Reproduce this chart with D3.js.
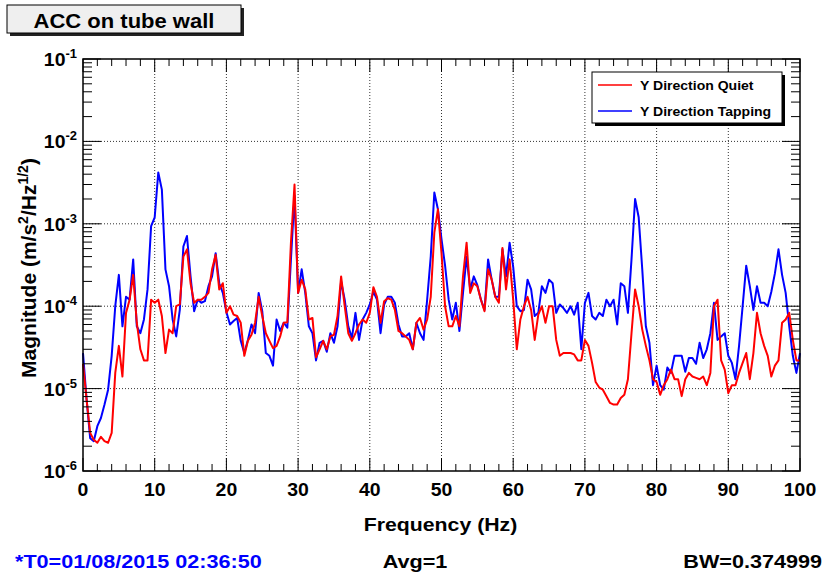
<!DOCTYPE html>
<html>
<head>
<meta charset="utf-8">
<script src="https://cdn.jsdelivr.net/npm/d3@7"></script>
<style>
  body { margin: 0; background: #fff; }
  svg { display: block; font-family: "Liberation Sans", Arial, sans-serif; font-weight: bold; }
</style>
</head>
<body>
<div id="chart"></div>
<script>
// frequency grid (Hz), 0.5 Hz sampling
const freq = d3.range(0, 100.001, 0.5);

// Y Direction Tapping (blue)
const tapping = [
  2.7e-5, 7.4e-6, 2.5e-6, 2.3e-6, 3.5e-6, 4.4e-6, 6.4e-6, 9.7e-6, 2.5e-5, 1e-4,
  2.4e-4, 5.7e-5, 1.3e-4, 1.2e-4, 3.7e-4, 5.7e-5, 4.7e-5, 6.9e-5, 1.6e-4, 9.4e-4,
  1.2e-3, 4.2e-3, 2.6e-3, 2.8e-4, 1.75e-4, 6.9e-5, 4.3e-5, 9e-5, 5.3e-4, 7.1e-4,
  2.3e-4, 8.7e-5, 1.2e-4, 1.1e-4, 1.15e-4, 1.75e-4, 2.3e-4, 4.4e-4, 1.9e-4, 1.45e-4,
  8.5e-5, 6e-5, 6.6e-5, 7.2e-5, 3.8e-5, 2.7e-5, 3.9e-5, 6e-5, 4.7e-5, 1.45e-4,
  8.7e-5, 2.7e-5, 2.5e-5, 1.9e-5, 6.9e-5, 5e-5, 6.3e-5, 5.5e-5, 3.7e-4, 2.2e-3,
  1.45e-4, 2.8e-4, 1.45e-4, 5.7e-5, 4.7e-5, 2.2e-5, 3.6e-5, 3.8e-5, 2.8e-5, 4.7e-5,
  3.6e-5, 5.7e-5, 2e-4, 1.2e-4, 5.7e-5, 4.1e-5, 8.3e-5, 3.9e-5, 6.9e-5, 8.3e-5,
  1.05e-4, 1.5e-4, 1.2e-4, 4.7e-5, 1.05e-4, 1.3e-4, 1.3e-4, 1.1e-4, 6e-5, 4.3e-5,
  4.3e-5, 4.7e-5, 3e-5, 6.3e-5, 4.7e-5, 3.9e-5, 1.2e-4, 4e-4, 2.4e-3, 1.5e-3,
  6.5e-4, 3.1e-4, 1.2e-4, 6.9e-5, 1.1e-4, 5e-5, 1.45e-4, 4e-4, 1.6e-4, 2.3e-4,
  1.8e-4, 1.2e-4, 9e-5, 3.7e-4, 2.1e-4, 1.3e-4, 1.3e-4, 4.9e-4, 2.3e-4, 5.9e-4,
  3e-4, 1e-4, 8.7e-5, 9e-5, 2.1e-4, 1.6e-4, 7.6e-5, 8.3e-5, 1.75e-4, 1.45e-4,
  2.1e-4, 1.9e-4, 8.3e-5, 1.05e-4, 9.5e-5, 8.3e-5, 1e-4, 7.9e-5, 1.1e-4, 3e-5,
  1.1e-4, 1.45e-4, 7.6e-5, 6.9e-5, 8.3e-5, 7.6e-5, 1.2e-4, 1e-4, 1.2e-4, 6e-5,
  1.9e-4, 1.75e-4, 8.3e-5, 3.7e-4, 2e-3, 1.2e-3, 2.8e-4, 5.7e-5, 3.6e-5, 1.1e-5,
  1.9e-5, 1.1e-5, 9.7e-6, 1.8e-5, 1.55e-5, 2.5e-5, 2.5e-5, 2.5e-5, 1.6e-5, 2.35e-5,
  2.35e-5, 2e-5, 3.6e-5, 2.35e-5, 3e-5, 4.7e-5, 1.1e-4, 3.9e-5, 4.3e-5, 4.7e-5,
  2.5e-5, 2.05e-5, 1.3e-5, 3.3e-5, 1e-4, 3.1e-4, 1.75e-4, 9e-5, 1.75e-4, 1.1e-4,
  1.1e-4, 1e-4, 1.5e-4, 2.5e-4, 4.9e-4, 2.4e-4, 1.45e-4, 5.7e-5, 2.5e-5, 1.55e-5,
  2.7e-5
];

// Y Direction Quiet (red)
const quiet = [
  2.0e-5, 7.4e-6, 2.9e-6, 2.4e-6, 2.2e-6, 2.6e-6, 2.3e-6, 2.2e-6, 2.9e-6, 1.55e-5,
  3.3e-5, 1.4e-5, 8.3e-5, 1.2e-4, 2.4e-4, 6.3e-5, 3e-5, 2.2e-5, 2.2e-5, 1.2e-4,
  1.1e-4, 1.2e-4, 7.6e-5, 2.7e-5, 5.2e-5, 4.7e-5, 1e-4, 1.05e-4, 4e-4, 4.9e-4,
  1.9e-4, 1.1e-4, 1.2e-4, 1.2e-4, 1.3e-4, 1.45e-4, 2.8e-4, 4.2e-4, 1.6e-4, 1.9e-4,
  8.3e-5, 1e-4, 7.9e-5, 7.6e-5, 6.3e-5, 2.5e-5, 3.8e-5, 4.5e-5, 6.3e-5, 1.3e-4,
  7.6e-5, 4.7e-5, 3.8e-5, 3.1e-5, 3.3e-5, 4.3e-5, 6.3e-5, 6.4e-5, 5.9e-4, 3e-3,
  1.45e-4, 2.1e-4, 1.6e-4, 6.9e-5, 7.2e-5, 2.4e-5, 3e-5, 3.8e-5, 3e-5, 4.3e-5,
  4.5e-5, 7.6e-5, 2.3e-4, 1e-4, 4.7e-5, 3.8e-5, 4.7e-5, 6e-5, 6.9e-5, 6.3e-5,
  8.3e-5, 1.7e-4, 1.3e-4, 6.3e-5, 1.15e-4, 1.25e-4, 1.2e-4, 9e-5, 5e-5, 4.7e-5,
  4.3e-5, 3.9e-5, 3e-5, 6.3e-5, 7.2e-5, 5.2e-5, 6.9e-5, 1.3e-4, 7.8e-4, 1.5e-3,
  4.4e-4, 1e-4, 5.7e-5, 5.7e-5, 7.6e-5, 5.7e-5, 2.3e-4, 5.9e-4, 1.45e-4, 1.9e-4,
  1.75e-4, 1.2e-4, 8.7e-5, 2.8e-4, 2.1e-4, 1.3e-4, 1.1e-4, 5.1e-4, 1.6e-4, 3.7e-4,
  1.2e-4, 3e-5, 6.9e-5, 1e-4, 1.3e-4, 9e-5, 3.9e-5, 7.9e-5, 1e-4, 6.3e-5,
  1e-4, 1e-4, 3.9e-5, 2.5e-5, 2.7e-5, 2.7e-5, 2.7e-5, 2.6e-5, 2.2e-5, 2.2e-5,
  3.9e-5, 3.3e-5, 2.05e-5, 1.2e-5, 1.03e-5, 9.7e-6, 8.1e-6, 6.7e-6, 6.4e-6, 6.4e-6,
  7.7e-6, 8.4e-6, 1.3e-5, 4.7e-5, 1.6e-4, 1e-4, 5.2e-5, 3.3e-5, 2.2e-5, 1.3e-5,
  1.2e-5, 8.4e-6, 1.1e-5, 1.3e-5, 1.7e-5, 1.3e-5, 1.3e-5, 8.1e-6, 1.3e-5, 1.55e-5,
  1.4e-5, 1.35e-5, 1.3e-5, 1.4e-5, 1.1e-5, 1.55e-5, 1e-4, 1.2e-4, 2.2e-5, 1.7e-5,
  8.8e-6, 1.1e-5, 1.1e-5, 1.55e-5, 2.05e-5, 2.7e-5, 1.3e-5, 2.7e-5, 8.3e-5, 4.7e-5,
  3.3e-5, 2.5e-5, 1.4e-5, 1.9e-5, 2.2e-5, 6.3e-5, 6.9e-5, 8.3e-5, 3.9e-5, 2.2e-5,
  2.2e-5
];

const xTicks = [0, 10, 20, 30, 40, 50, 60, 70, 80, 90, 100];
const yExponents = [-1, -2, -3, -4, -5, -6];
const seriesNames = ['Y Direction Quiet', 'Y Direction Tapping'];
const seriesColors = ['#ff0000', '#0000ff'];

const W = 830, H = 575;
const plot = { left: 83, right: 800, top: 59, bottom: 471 };

const svg = d3.select('#chart').append('svg')
    .attr('width', W)
    .attr('height', H);

const x = d3.scaleLinear().domain([0, 100]).range([plot.left, plot.right]);
const y = d3.scaleLog().domain([1e-6, 1e-1]).range([plot.bottom, plot.top]);

// text helper, sx = horizontal stretch
function label(parent, px, py, txt, size, anchor, color, sx) {
    return parent.append('text')
        .attr('transform', `translate(${px},${py}) scale(${sx || 1},1)`)
        .attr('text-anchor', anchor || 'start')
        .style('font-size', size + 'px')
        .attr('fill', color || '#000')
        .text(txt);
}

// grid (dotted)
const grid = svg.append('g');
grid.selectAll('.gx')
    .data(xTicks.filter(d => d > 0 && d < 100))
    .enter().append('line')
    .attr('x1', d => x(d)).attr('x2', d => x(d))
    .attr('y1', plot.top).attr('y2', plot.bottom)
    .attr('stroke', '#333').attr('stroke-width', 1)
    .attr('stroke-dasharray', '1,2');
grid.selectAll('.gy')
    .data(yExponents.filter(e => e > -6 && e < -1))
    .enter().append('line')
    .attr('x1', plot.left).attr('x2', plot.right)
    .attr('y1', e => y(Math.pow(10, e))).attr('y2', e => y(Math.pow(10, e)))
    .attr('stroke', '#333').attr('stroke-width', 1)
    .attr('stroke-dasharray', '1,2');

// curves: blue first, red on top
const line = d3.line()
    .x((d, i) => x(freq[i]))
    .y(d => y(d));

svg.append('path')
    .datum(tapping)
    .attr('d', line)
    .attr('fill', 'none')
    .attr('stroke', seriesColors[1])
    .attr('stroke-width', 2)
    .attr('stroke-linejoin', 'round');

svg.append('path')
    .datum(quiet)
    .attr('d', line)
    .attr('fill', 'none')
    .attr('stroke', seriesColors[0])
    .attr('stroke-width', 2)
    .attr('stroke-linejoin', 'round');

// frame
svg.append('rect')
    .attr('x', plot.left).attr('y', plot.top)
    .attr('width', plot.right - plot.left)
    .attr('height', plot.bottom - plot.top)
    .attr('fill', 'none')
    .attr('stroke', '#000')
    .attr('stroke-width', 1.5);

// ticks on all four sides
const ticks = svg.append('g').attr('stroke', '#000').attr('stroke-width', 1);
const xMinor = d3.range(0, 100.001, 2);
xMinor.forEach(v => {
    const len = v % 10 === 0 ? 13 : 7;
    ticks.append('line').attr('x1', x(v)).attr('x2', x(v))
        .attr('y1', plot.bottom).attr('y2', plot.bottom - len);
    ticks.append('line').attr('x1', x(v)).attr('x2', x(v))
        .attr('y1', plot.top).attr('y2', plot.top + len);
});
const yMinor = y.ticks(); // 1..9 x 10^n
yMinor.forEach(v => {
    const m = Math.round(v / Math.pow(10, Math.floor(Math.log10(v) + 1e-9)));
    const len = m === 1 ? 18 : 9;
    ticks.append('line').attr('x1', plot.left).attr('x2', plot.left + len)
        .attr('y1', y(v)).attr('y2', y(v));
    ticks.append('line').attr('x1', plot.right).attr('x2', plot.right - len)
        .attr('y1', y(v)).attr('y2', y(v));
});

// x tick labels
xTicks.forEach(v => label(svg, x(v), 496, String(v), 18, 'middle', '#000', 1.08));

// y tick labels 10^n
yExponents.forEach(e => {
    const t = svg.append('text')
        .attr('transform', `translate(77,${y(Math.pow(10, e)) + 7}) scale(1.08,1)`)
        .attr('text-anchor', 'end')
        .style('font-size', '18px');
    t.append('tspan').text('10');
    t.append('tspan').attr('dy', -8).style('font-size', '12px').text(String(e));
});

// axis titles
label(svg, (plot.left + plot.right) / 2 - 1, 531, 'Frequency (Hz)', 19, 'middle', '#000', 1.12);

const yt = svg.append('text')
    .attr('transform', `translate(36,${(plot.top + plot.bottom) / 2 + 3}) rotate(-90)`)
    .attr('text-anchor', 'middle')
    .style('font-size', '21px');
yt.append('tspan').text('Magnitude (m/s');
yt.append('tspan').attr('dy', -8).style('font-size', '14px').text('2');
yt.append('tspan').attr('dy', 8).text('/Hz');
yt.append('tspan').attr('dy', -8).style('font-size', '14px').text('1/2');
yt.append('tspan').attr('dy', 8).text(')');

// title box
svg.append('rect').attr('x', 10).attr('y', 8).attr('width', 234).attr('height', 28).attr('fill', '#222');
svg.append('rect').attr('x', 7).attr('y', 5).attr('width', 234).attr('height', 28)
    .attr('fill', '#efefef').attr('stroke', '#000').attr('stroke-width', 1);
label(svg, 124, 28, 'ACC on tube wall', 20, 'middle', '#000', 1.1);

// legend
const lg = svg.append('g');
lg.append('rect').attr('x', 595).attr('y', 75).attr('width', 190).attr('height', 51).attr('fill', '#000');
lg.append('rect').attr('x', 592).attr('y', 72).attr('width', 190).attr('height', 51)
    .attr('fill', '#fff').attr('stroke', '#000').attr('stroke-width', 1);
seriesNames.forEach((name, i) => {
    const ly = 85 + i * 26;
    lg.append('line').attr('x1', 598).attr('x2', 632).attr('y1', ly).attr('y2', ly)
        .attr('stroke', seriesColors[i]).attr('stroke-width', 1.5);
    label(lg, 640, ly + 5, name, 13, 'start', '#000', 1.08);
});

// footer
label(svg, 15, 568, '*T0=01/08/2015 02:36:50', 18, 'start', '#0000ff', 1.2);
label(svg, 415, 568, 'Avg=1', 18, 'middle', '#000', 1.2);
label(svg, 822, 568, 'BW=0.374999', 18, 'end', '#000', 1.2);
</script>
</body>
</html>
